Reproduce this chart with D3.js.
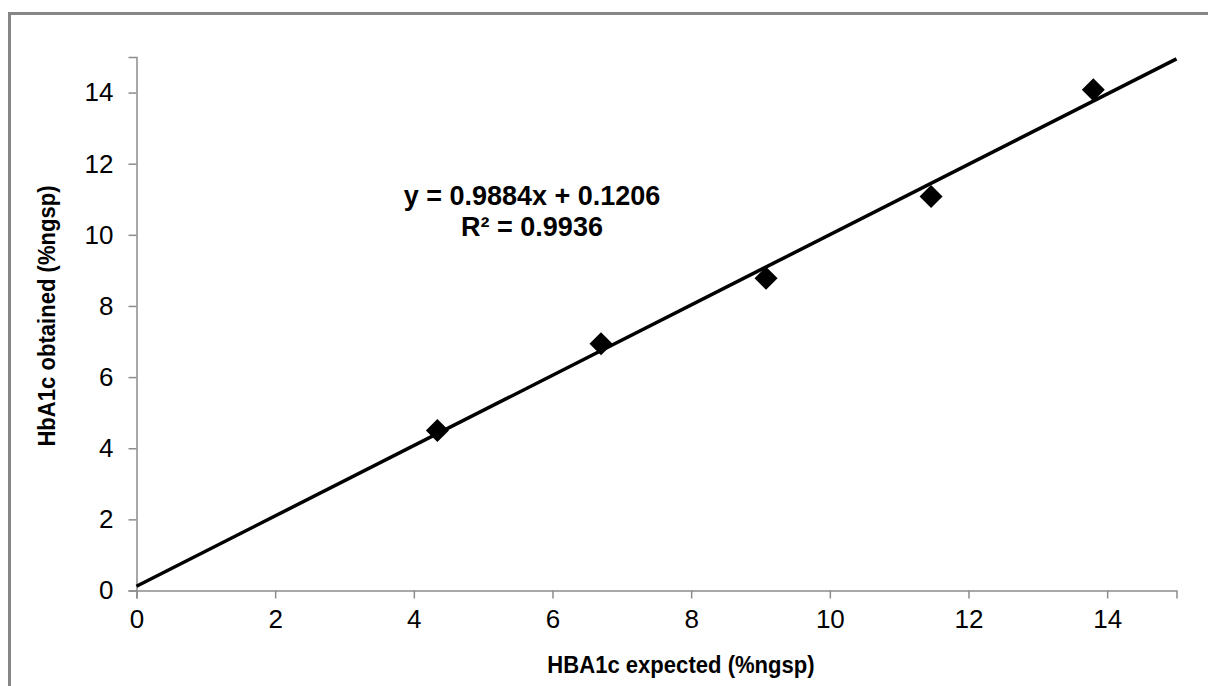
<!DOCTYPE html>
<html>
<head>
<meta charset="utf-8">
<script src="https://cdn.jsdelivr.net/npm/d3@7"></script>
<style>
  body { margin: 0; background: #fff; }
  svg { display: block; font-family: "Liberation Sans", Arial, sans-serif; }
</style>
</head>
<body>
<div id="chart"></div>
<script>
// data
var expected = [4.34, 6.70, 9.08, 11.46, 13.80];
var obtained = [4.50, 6.94, 8.78, 11.08, 14.08];
var xTicks = [0, 2, 4, 6, 8, 10, 12, 14];
var yTicks = [0, 2, 4, 6, 8, 10, 12, 14];
var slope = 0.9884;
var intercept = 0.1206;
var eqLines = ["y = 0.9884x + 0.1206", "R\u00b2 = 0.9936"];

var svgWidth = 1208;
var svgHeight = 686;

var svg = d3.select("#chart")
    .append("svg")
    .attr("width", svgWidth)
    .attr("height", svgHeight);

// outer border of the chart (runs off right/bottom)
svg.append("rect")
    .attr("x", 9.5).attr("y", 13.5)
    .attr("width", 1220).attr("height", 700)
    .attr("fill", "none")
    .attr("stroke", "#868686")
    .attr("stroke-width", 3);

var x = d3.scaleLinear().domain([0, 15]).range([136.5, 1176.5]);
var y = d3.scaleLinear().domain([0, 15]).range([590.5, 57]);

var xAxis = d3.axisBottom(x).tickValues(xTicks).tickSize(8).tickPadding(11).tickFormat(d3.format("d"));
var yAxis = d3.axisLeft(y).tickValues(yTicks).tickSize(8).tickPadding(15).tickFormat(d3.format("d"));

var gx = svg.append("g")
    .attr("transform", `translate(0, ${y(0)})`)
    .call(xAxis);

var gy = svg.append("g")
    .attr("transform", `translate(${x(0)}, 0)`)
    .call(yAxis);

[gx, gy].forEach(function(g) {
    g.select(".domain").attr("stroke", "#8c8c8c").attr("stroke-width", 1.5);
    g.selectAll(".tick line").attr("stroke", "#8c8c8c").attr("stroke-width", 1.5);
    g.selectAll(".tick text")
        .attr("fill", "#000")
        .style("font-size", "26px");
});

// trendline
var line = d3.line()
    .x(d => x(d))
    .y(d => y(slope * d + intercept));

svg.append("path")
    .datum([0, 15])
    .attr("d", line)
    .attr("fill", "none")
    .attr("stroke", "#000")
    .attr("stroke-width", 3.5);

// diamonds
var diamond = d3.symbol().type(d3.symbolSquare).size(265);
svg.selectAll(".pt")
    .data(expected)
    .enter()
    .append("path")
    .attr("class", "pt")
    .attr("d", diamond)
    .attr("transform", (d, i) => `translate(${x(d)}, ${y(obtained[i])}) rotate(45)`)
    .attr("fill", "#000");

// equation label
svg.selectAll(".eq")
    .data(eqLines)
    .enter()
    .append("text")
    .attr("class", "eq")
    .attr("x", 532)
    .attr("y", (d, i) => 205 + i * 31)
    .attr("text-anchor", "middle")
    .style("font-size", "27px")
    .style("font-weight", "bold")
    .text(d => d);

// axis titles (glyphs a bit taller than wide in the original)
svg.append("text")
    .attr("transform", "translate(681, 673) scale(0.92, 1)")
    .attr("text-anchor", "middle")
    .style("font-size", "24px")
    .style("font-weight", "bold")
    .text("HBA1c expected (%ngsp)");

svg.append("text")
    .attr("transform", "translate(55, 316) rotate(-90) scale(0.92, 1)")
    .attr("text-anchor", "middle")
    .style("font-size", "24px")
    .style("font-weight", "bold")
    .text("HbA1c obtained (%ngsp)");
</script>
</body>
</html>
